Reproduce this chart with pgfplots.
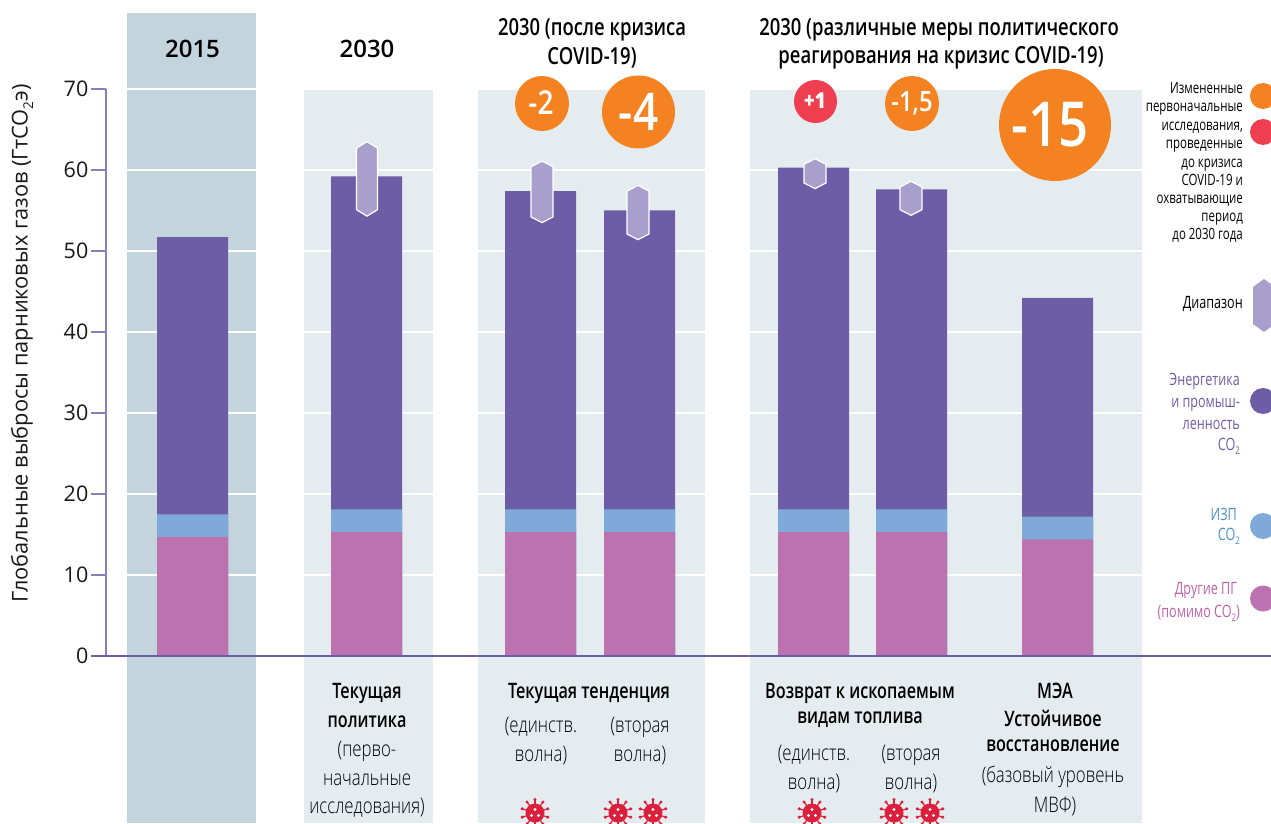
\documentclass[border=0pt]{standalone}
\usepackage{pgfplots}
\pgfplotsset{compat=1.18}
\usepackage{fontspec}
\setmainfont{Open Sans}
\newfontfamily\reg{Open Sans}
\newfontfamily\lgd[FakeStretch=0.74]{Open Sans}
\newfontfamily\lt[FakeStretch=0.78]{Open Sans Light}
\newfontfamily\bd[FakeStretch=0.76]{Open Sans Semibold}
\newfontfamily\hd[FakeStretch=0.785]{Open Sans Semibold}
\newfontfamily\bdw{Open Sans Semibold}
\newfontfamily\bubb[FakeStretch=0.85]{Open Sans Semibold}
\definecolor{bgA}{HTML}{C3D4DC}
\definecolor{bgB}{HTML}{E5ECF0}
\definecolor{pur}{HTML}{6D5DA7}
\definecolor{blu}{HTML}{7EA9D9}
\definecolor{pnk}{HTML}{BB72AE}
\definecolor{rng}{HTML}{A99FCC}
\definecolor{ora}{HTML}{F58220}
\definecolor{rd}{HTML}{EF3E4F}
\definecolor{vir}{HTML}{DC1F3A}
\definecolor{ax}{HTML}{8A7FBB}
\definecolor{bluT}{HTML}{4A90CE}
\definecolor{pinT}{HTML}{C15FA8}
\pgfplotstableread{
x pink blue total
192.5 14.7 17.5 51.7
366.5 15.3 18.1 59.2
540.5 15.3 18.1 57.4
639.5 15.3 18.1 55.0
813.5 15.3 18.1 60.3
911.5 15.3 18.1 57.6
1057.5 14.4 17.2 44.2
}\bars
\newcommand\virus[2]{%
\begin{scope}[shift={(#1,823-#2)}]
\fill[vir] (0,0) circle (9.5);
\foreach \a in {0,36,...,324}{\draw[vir,line width=1.2] (0,0)--(\a+18:13.5);\fill[vir] (\a+18:13.5) circle (1.7);}
\fill[white] (0,3.5) circle (1.6) (-3.5,-2.5) circle (1.6) (3.5,-2.5) circle (1.6);
\end{scope}}
\newcommand\T[4]{\node[font=#1,text=black,inner sep=0] at (#2,821-#3) {#4};}
\newcommand\Y[3]{\node[font=\fontsize{24}{24}\bdw,text=black,inner sep=0] at (#1,823-#2) {#3};}
\newcommand\Lg[5][15.5]{\node[font=\fontsize{#1}{#1}\lgd,text=#2,inner sep=0,anchor=east] at (#3,821.5-#4) {\vphantom{Д}#5};}
\newcommand\sub[1]{\raisebox{-.25em}{\scalebox{.62}{#1}}}
\def\BF{\fontsize{21.3}{21.3}\bd}
\def\LF{\fontsize{21.5}{21.5}\lt}
\def\HF{\fontsize{23.5}{23.5}\hd}
\begin{document}
\begin{tikzpicture}[x=1pt,y=1pt]
\useasboundingbox (0,0) rectangle (1271,823);
\begin{axis}[at={(106pt,167pt)},anchor=south west,scale only axis,width=1165pt,height=567pt,
 xmin=106,xmax=1271,ymin=0,ymax=70,clip=false,
 axis y line=left,axis x line=none,y axis line style={draw=ax,line width=1.3pt,-},
 ytick={0,10,...,70},tick style={draw=ax,line width=1.3pt},tick align=outside,major tick length=15pt,
 yticklabel style={font=\fontsize{21.5}{21.5}\reg,text=black!90,inner sep=2.5pt},
 /pgf/number format/assume math mode=true,
 ylabel={Глобальные выбросы парниковых газов (ГтСО\sub{2}э)},
 every axis y label/.style={at={(axis description cs:-0.0721,0.551)},rotate=90,anchor=center,font=\fontsize{21.8}{21.8}\reg,text=black!90},
 ]
% panels
\addplot[fill=bgA,draw=none] coordinates {(127,-20.62)(256,-20.62)(256,79.38)(127,79.38)} --cycle;
\addplot[fill=bgB,draw=none] coordinates {(304,-20.62)(433,-20.62)(433,70)(304,70)} --cycle;
\addplot[fill=bgB,draw=none] coordinates {(478,-20.62)(705,-20.62)(705,70)(478,70)} --cycle;
\addplot[fill=bgB,draw=none] coordinates {(750,-20.62)(1142,-20.62)(1142,70)(750,70)} --cycle;
% white grid lines
\pgfplotsinvokeforeach{10,20,30,40,50,60,70}{\addplot[white,line width=1.2pt] coordinates {(127,#1)(1142,#1)};}
% bars, drawn from the tallest cumulative level down
\addplot[ybar,bar shift=0pt,bar width=71pt,fill=pur,draw=none] table[x=x,y=total]{\bars};
\addplot[ybar,bar shift=0pt,bar width=71pt,fill=blu,draw=none] table[x=x,y=blue]{\bars};
\addplot[ybar,bar shift=0pt,bar width=71pt,fill=pnk,draw=none] table[x=x,y=pink]{\bars};
% ranges
\addplot[fill=rng,draw=white,line width=1.2pt] coordinates {(356.5,55.1)(367,54.3)(377.5,55.1)(377.5,62.7)(367,63.5)(356.5,62.7)} --cycle;
\addplot[fill=rng,draw=white,line width=1.2pt] coordinates {(531,54.2)(542,53.5)(553,54.2)(553,60.4)(542,61.1)(531,60.4)} --cycle;
\addplot[fill=rng,draw=white,line width=1.2pt] coordinates {(627,52.1)(638,51.4)(649,52.1)(649,57.4)(638,58.1)(627,57.4)} --cycle;
\addplot[fill=rng,draw=white,line width=1.2pt] coordinates {(804,58.4)(815,57.7)(826,58.4)(826,60.7)(815,61.4)(804,60.7)} --cycle;
\addplot[fill=rng,draw=white,line width=1.2pt] coordinates {(900,55.1)(911,54.4)(922,55.1)(922,57.9)(911,58.6)(900,57.9)} --cycle;
% zero line
\addplot[pur,line width=2.2pt] coordinates {(91,0)(1271,0)};
\end{axis}
% bubbles
\fill[ora] (542,823-103.5) ellipse (27 and 27.5);
\node[text=white,font=\fontsize{33}{33}\bubb,inner sep=0] at (541,823-103) {-2};
\fill[ora] (638.5,823-112) circle (36.5);
\node[text=white,font=\fontsize{52}{52}\bubb,inner sep=0] at (638.5,823-112) {-4};
\fill[rd] (815.5,823-101.5) circle (21.5);
\node[text=white,font=\fontsize{22}{22}\bubb,inner sep=0] at (815,823-101) {\textbf{+1}};
\fill[ora] (912,823-103.5) ellipse (27 and 27.5);
\node[text=white,font=\fontsize{28}{28}\bubb,inner sep=0] at (912,823-103) {-1,5};
\fill[ora] (1055,823-125) circle (56);
\node[text=white,font=\fontsize{62}{62}\bubb,inner sep=0] at (1050,823-125) {-15};
% headings
\Y{192.5}{49}{2015}
\Y{367}{49}{2030}
\T{\HF}{592}{28}{2030 (после кризиса}
\T{\HF}{592}{56}{COVID-19)}
\T{\HF}{939}{28}{2030 (различные меры политического}
\T{\HF}{941}{56}{реагирования на кризис COVID-19)}
% labels below
\T{\BF}{367}{691}{Текущая}
\T{\BF}{367}{720}{политика}
\T{\LF}{367}{749}{(перво-}
\T{\LF}{367}{778}{начальные}
\T{\LF}{367}{806}{исследования)}
\T{\BF}{589}{691}{Текущая тенденция}
\T{\LF}{541}{725}{(единств.}
\T{\LF}{541}{754}{волна)}
\T{\LF}{640}{725}{(вторая}
\T{\LF}{640}{754}{волна)}
\T{\BF}{860}{691}{Возврат к ископаемым}
\T{\BF}{860}{718}{видам топлива}
\T{\LF}{814}{753}{(единств.}
\T{\LF}{814}{782}{волна)}
\T{\LF}{911}{753}{(вторая}
\T{\LF}{911}{782}{волна)}
\T{\BF}{1055}{689}{МЭА}
\T{\BF}{1053}{716}{Устойчивое}
\T{\BF}{1053}{744}{восстановление}
\T{\LF}{1053}{775}{(базовый уровень}
\T{\LF}{1055}{804}{МВФ)}
\virus{535}{813}\virus{618}{813}\virus{653}{813}
\virus{812}{813}\virus{894}{813}\virus{930}{813}
% legend
\Lg{black}{1243}{88}{Измененные}
\Lg{black}{1243}{106}{первоначальные}
\Lg{black}{1243}{125}{исследования,}
\Lg{black}{1243}{143}{проведенные}
\Lg{black}{1243}{162}{до кризиса}
\Lg{black}{1243}{180}{COVID-19 и}
\Lg{black}{1243}{198}{охватывающие}
\Lg{black}{1243}{216}{период}
\Lg{black}{1243}{234}{до 2030 года}
\Lg[17]{black}{1243}{303}{Диапазон}
\Lg[17]{pur}{1240}{380}{Энергетика}
\Lg[17]{pur}{1240}{402}{и промыш-}
\Lg[17]{pur}{1240}{424}{ленность}
\Lg[17]{pur}{1240}{445}{СО\sub{2}}
\Lg[17]{bluT}{1237}{514}{ИЗП}
\Lg[17]{bluT}{1240}{535}{СО\sub{2}}
\Lg[17]{pinT}{1237}{589}{Другие ПГ}
\Lg[17]{pinT}{1240}{612}{(помимо СО\sub{2})}
\fill[ora] (1263,823-96) circle (13);
\fill[rd] (1263,823-132) circle (13);
\fill[pur] (1263,823-401) circle (13);
\fill[blu] (1263,823-526) circle (13);
\fill[pnk] (1263,823-598.5) circle (13);
\fill[rng] (1253,823-287)--(1264,823-279)--(1275,823-287)--(1275,823-324)--(1264,823-332)--(1253,823-324)--cycle;
\end{tikzpicture}
\end{document}
